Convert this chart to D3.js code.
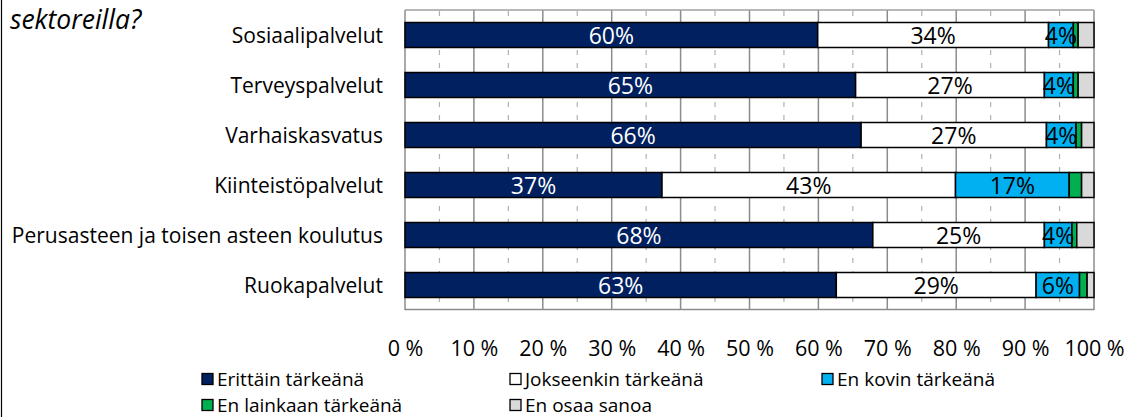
<!DOCTYPE html>
<html><head><meta charset="utf-8">
<script src="https://cdn.jsdelivr.net/npm/d3@7"></script>
<style>body{margin:0;background:#fff}svg{display:block}text{font-family:"Open Sans",sans-serif}</style>
</head><body><svg id="c" width="1133" height="417"></svg>
<script>
const categories = ["Sosiaalipalvelut","Terveyspalvelut","Varhaiskasvatus","Kiinteistöpalvelut","Perusasteen ja toisen asteen koulutus","Ruokapalvelut"];
const seriesNames = ["Erittäin tärkeänä","Jokseenkin tärkeänä","En kovin tärkeänä","En lainkaan tärkeänä","En osaa sanoa"];
const erittain   = [59.9, 65.4, 66.2, 37.3, 67.9, 62.6];
const jokseenkin = [33.5, 27.4, 26.9, 42.6, 24.9, 29.0];
const enKovin    = [3.6, 4.2, 4.3, 16.5, 4.0, 6.3];
const enLainkaan = [0.7, 0.7, 0.8, 1.8, 0.7, 1.1];
const enOsaa     = [2.3, 2.3, 1.8, 1.8, 2.5, 1.0];
const labelShown = [true, true, true, false, false];
const tickValues = [0,10,20,30,40,50,60,70,80,90,100];
const colors = ["#002060","#FFFFFF","#00B0F0","#00B050","#D9D9D9"];
const labelColors = ["#FFFFFF","#000000","#000000","#000000","#000000"];

const svg = d3.select("#c");
const W=1133,H=417;
const x0=405, x1=1094, y0=10, y1=310;
const x = d3.scaleLinear().domain([0,100]).range([x0,x1]);
const y = d3.scaleBand().domain(categories).range([y0,y1]).paddingInner(0.5).paddingOuter(0.25);

// frame line at left
svg.append("line").attr("x1",1.5).attr("x2",1.5).attr("y1",0).attr("y2",H).attr("stroke","#000").attr("stroke-width",1.2);

// title fragment
svg.append("text").attr("x",10).attr("y",29).attr("font-style","italic").attr("font-size",26.5).attr("fill","#000").text("sektoreilla?");

// minor dashed grid
const g = svg.append("g");
d3.range(5,100,10).forEach(v=>{
  g.append("line").attr("x1",x(v)).attr("x2",x(v)).attr("y1",y0).attr("y2",y1)
   .attr("stroke","#b0b0b0").attr("stroke-width",1.2).attr("stroke-dasharray","5,8").attr("stroke-dashoffset",-1);
});
// major grid
tickValues.forEach(v=>{
  g.append("line").attr("x1",x(v)).attr("x2",x(v)).attr("y1",y0).attr("y2",y1)
   .attr("stroke","#8c8c8c").attr("stroke-width",1.5);
});
g.append("line").attr("x1",x0).attr("x2",x1).attr("y1",y0).attr("y2",y0).attr("stroke","#a0a0a0").attr("stroke-width",1.5);
g.append("line").attr("x1",x0).attr("x2",x1).attr("y1",y1-0.5).attr("y2",y1-0.5).attr("stroke","#8c8c8c").attr("stroke-width",1.5);

// stacked data
const rows = categories.map((c,i)=>({cat:c, s0:erittain[i], s1:jokseenkin[i], s2:enKovin[i], s3:enLainkaan[i], s4:enOsaa[i]}));
const stack = d3.stack().keys(["s0","s1","s2","s3","s4"])(rows);
stack.forEach((layer,k)=>{
  const lg = svg.append("g");
  lg.selectAll("rect").data(layer).join("rect")
    .attr("x",d=>x(d[0])).attr("width",d=>x(d[1])-x(d[0]))
    .attr("y",d=>y(d.data.cat)).attr("height",y.bandwidth())
    .attr("fill",colors[k]).attr("stroke","#000").attr("stroke-width",1.5);
});
stack.forEach((layer,k)=>{
  if(!labelShown[k]) return;
  svg.append("g").selectAll("text").data(layer).join("text")
    .attr("x",d=>(x(d[0])+x(d[1]))/2).attr("y",d=>y(d.data.cat)+y.bandwidth()/2+8.5)
    .attr("text-anchor","middle").attr("font-size",23).attr("fill",labelColors[k])
    .text(d=>Math.round(d[1]-d[0])+"%");
});

// y axis labels
svg.append("g").selectAll("text").data(categories).join("text")
  .attr("x",383).attr("y",d=>y(d)+y.bandwidth()/2+8).attr("text-anchor","end")
  .attr("font-size",21).attr("fill","#000").text(d=>d);

// x axis
const xa = svg.append("g").attr("transform",`translate(0,${y1})`)
  .call(d3.axisBottom(x).tickValues(tickValues).tickSize(0).tickPadding(0).tickFormat(d=>d+" %"));
xa.select(".domain").remove();
xa.selectAll("text").attr("y",46).attr("dy",0).attr("font-size",21.5).attr("fill","#000").attr("font-family","Open Sans");

// legend
const legPos = [[202,379],[510,379],[822,379],[202,405],[510,405]];
seriesNames.forEach((n,k)=>{
  const [lx,ly]=legPos[k];
  svg.append("rect").attr("x",lx).attr("y",ly-5.5).attr("width",11).attr("height",11)
    .attr("fill",colors[k]).attr("stroke","#000").attr("stroke-width",1.3);
  svg.append("text").attr("x",lx+15).attr("y",ly+6.5).attr("font-size",19).attr("fill","#000").text(n);
});
</script></body></html>
